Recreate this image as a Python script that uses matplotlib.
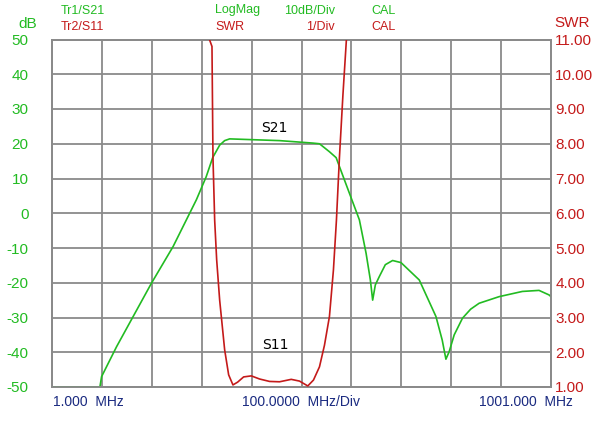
import matplotlib
matplotlib.use('Agg')
import matplotlib.pyplot as plt
from matplotlib.ticker import NullFormatter

plt.rcParams['font.family'] = ['Liberation Sans', 'DejaVu Sans']

# S21 trace, frequency (MHz) vs dB
s21_freq = [1, 97, 100.4, 130.4, 200.4, 243.6, 290.4, 310, 323, 337, 347, 357, 397, 457, 523,
            537, 557, 570.4, 587, 617, 630.4, 639, 643.6, 649, 657, 669, 683.6, 700.4,
            737, 770.4, 783, 790.4, 797, 807, 823.6, 840, 857, 897, 943.6, 977, 997, 1001]
s21_db = [-50, -50, -47, -38.4, -20.1, -9.6, 3.9, 10.5, 16, 19.6, 20.9, 21.4, 21.2, 20.9, 20.2,
          20.0, 17.7, 16, 9.6, -1.9, -11.5, -19.2, -25, -20.6, -18.2, -14.8, -13.6, -14.2,
          -19.2, -29.7, -36.5, -42, -39.8, -35, -30.2, -27.6, -25.9, -24, -22.5, -22.2, -23.5, -24]

# S11 trace, frequency (MHz) vs SWR
s11_freq = [315, 321.6, 323.6, 327, 331, 337, 347, 355, 363.6, 373, 385, 400.4, 417,
            437, 457, 480.4, 497, 513.6, 525, 537, 547, 557, 565, 571, 577, 584, 591, 593]
s11_swr = [11.06, 10.8, 7.6, 5.8, 4.66, 3.5, 2.07, 1.35, 1.06, 1.14, 1.29, 1.32, 1.23,
           1.16, 1.15, 1.22, 1.17, 1.03, 1.2, 1.58, 2.2, 3.03, 4.37, 5.8, 7.6, 9.4, 11.0, 11.3]

db_ticks = [50, 40, 30, 20, 10, 0, -10, -20, -30, -40, -50]
swr_ticks = [11, 10, 9, 8, 7, 6, 5, 4, 3, 2, 1]
freq_ticks = [1, 101, 201, 301, 401, 501, 601, 701, 801, 901, 1001]

green = '#22bb22'
red = '#c41a1a'
navy = '#1a2a80'
grid_c = '#8a8a8a'

fig = plt.figure(figsize=(6, 4.24), dpi=100)
ax = fig.add_axes([52/600, 37/424, 499/600, 347.5/424])
ax2 = ax.twinx()

ax.set_xlim(1, 1001)
ax.set_ylim(-50, 50)
ax2.set_ylim(1, 11)

ax.set_xticks(freq_ticks)
ax.xaxis.set_major_formatter(NullFormatter())
ax.set_yticks(db_ticks)
ax.set_yticklabels([str(t) for t in db_ticks])
ax2.set_yticks(swr_ticks)
ax2.set_yticklabels(['%.2f' % t for t in swr_ticks])

ax.grid(True, color=grid_c, linewidth=1.3)
ax.tick_params(axis='both', length=0)
ax.tick_params(axis='y', labelcolor=green, labelsize=11, pad=17)
ax2.tick_params(axis='y', length=0, labelcolor=red, labelsize=11, pad=3)
for a in (ax, ax2):
    for s in a.spines.values():
        s.set_color(grid_c)
        s.set_linewidth(1.3)

ax.plot(s21_freq, s21_db, color=green, linewidth=1.2, zorder=3)
ax2.plot(s11_freq, s11_swr, color=red, linewidth=1.2, zorder=3)

ax.text(447, 24.5, 'S21', fontsize=10, ha='center', va='center', color='black',
        family='DejaVu Sans')
ax.text(448, -37.8, 'S11', fontsize=10, ha='center', va='center', color='black',
        family='DejaVu Sans')

# header texts
fig.text(18/600, 1 - 24/424, 'dB', color=green, fontsize=11, va='center')
fig.text(554/600, 1 - 23/424, 'SWR', color=red, fontsize=11, va='center')
fig.text(61/600, 1 - 10.5/424, 'Tr1/S21', color=green, fontsize=9, va='center')
fig.text(61/600, 1 - 27/424, 'Tr2/S11', color=red, fontsize=9, va='center')
fig.text(215/600, 1 - 10.5/424, 'LogMag', color=green, fontsize=9, va='center')
fig.text(215/600, 1 - 27/424, 'SWR', color=red, fontsize=9, va='center')
fig.text(335/600, 1 - 10.5/424, '10dB/Div', color=green, fontsize=9, va='center', ha='right')
fig.text(335/600, 1 - 27/424, '1/Div', color=red, fontsize=9, va='center', ha='right')
fig.text(371/600, 1 - 10.5/424, 'CAL', color=green, fontsize=9, va='center')
fig.text(371/600, 1 - 27/424, 'CAL', color=red, fontsize=9, va='center')

# footer texts
fig.text(53/600, 1 - 402.5/424, '1.000  MHz', color=navy, fontsize=10, va='center')
fig.text(301/600, 1 - 402.5/424, '100.0000  MHz/Div', color=navy, fontsize=10, va='center', ha='center')
fig.text(573/600, 1 - 402.5/424, '1001.000  MHz', color=navy, fontsize=10, va='center', ha='right')

fig.savefig('out.png', dpi=100)
